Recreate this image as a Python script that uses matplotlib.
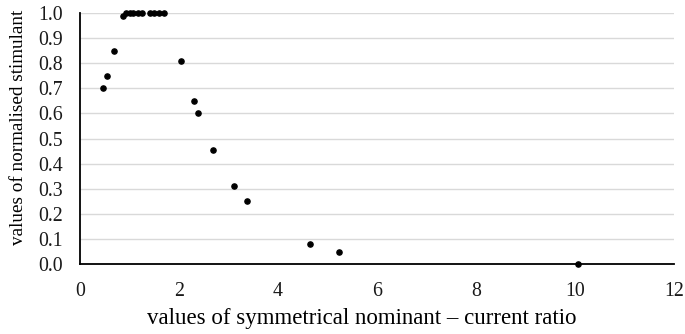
import matplotlib.pyplot as plt

# measured ratio vs normalised stimulant
ratio = [0.46, 0.55, 0.68, 0.86, 0.92, 1.00, 1.08, 1.17, 1.26,
         1.42, 1.50, 1.60, 1.69, 2.05, 2.30, 2.39, 2.69, 3.11,
         3.37, 4.65, 5.23, 10.05]
stimulant = [0.70, 0.75, 0.85, 0.99, 1.00, 1.00, 1.00, 1.00, 1.00,
             1.00, 1.00, 1.00, 1.00, 0.81, 0.65, 0.60, 0.455, 0.312,
             0.251, 0.08, 0.047, 0.0]

x_ticks = [0, 2, 4, 6, 8, 10, 12]
y_ticks = [0.0, 0.1, 0.2, 0.3, 0.4, 0.5, 0.6, 0.7, 0.8, 0.9, 1.0]

plt.rcParams['font.family'] = ['Liberation Serif', 'DejaVu Serif']

fig = plt.figure(figsize=(6.85, 3.34), dpi=100)
ax = fig.add_axes([0.1168, 0.2096, 0.8672, 0.7514])

ax.scatter(ratio, stimulant, s=14, color='black', zorder=3, clip_on=False)

ax.set_xlim(0, 12)
ax.set_ylim(0, 1.0)
ax.set_xticks(x_ticks)
ax.set_yticks(y_ticks)
ax.set_yticklabels([f'{v:.1f}' for v in y_ticks])
ax.tick_params(axis='both', length=0, labelsize=14.3, colors='#1a1a1a')
ax.tick_params(axis='x', pad=13)
ax.tick_params(axis='y', pad=12)

ax.grid(axis='y', color='#d9d9d9', linewidth=1)
ax.set_axisbelow(True)
for side in ['top', 'right']:
    ax.spines[side].set_visible(False)
for side in ['left', 'bottom']:
    ax.spines[side].set_color('black')
    ax.spines[side].set_linewidth(1.3)

ax.set_xlabel('values of symmetrical nominant – current ratio', fontsize=16.5)
ax.xaxis.set_label_coords(0.475, -0.175)
ax.set_ylabel('values of normalised stimulant', fontsize=13.8)
ax.yaxis.set_label_coords(-0.089, 0.546)

fig.savefig('out.png', dpi=100)
